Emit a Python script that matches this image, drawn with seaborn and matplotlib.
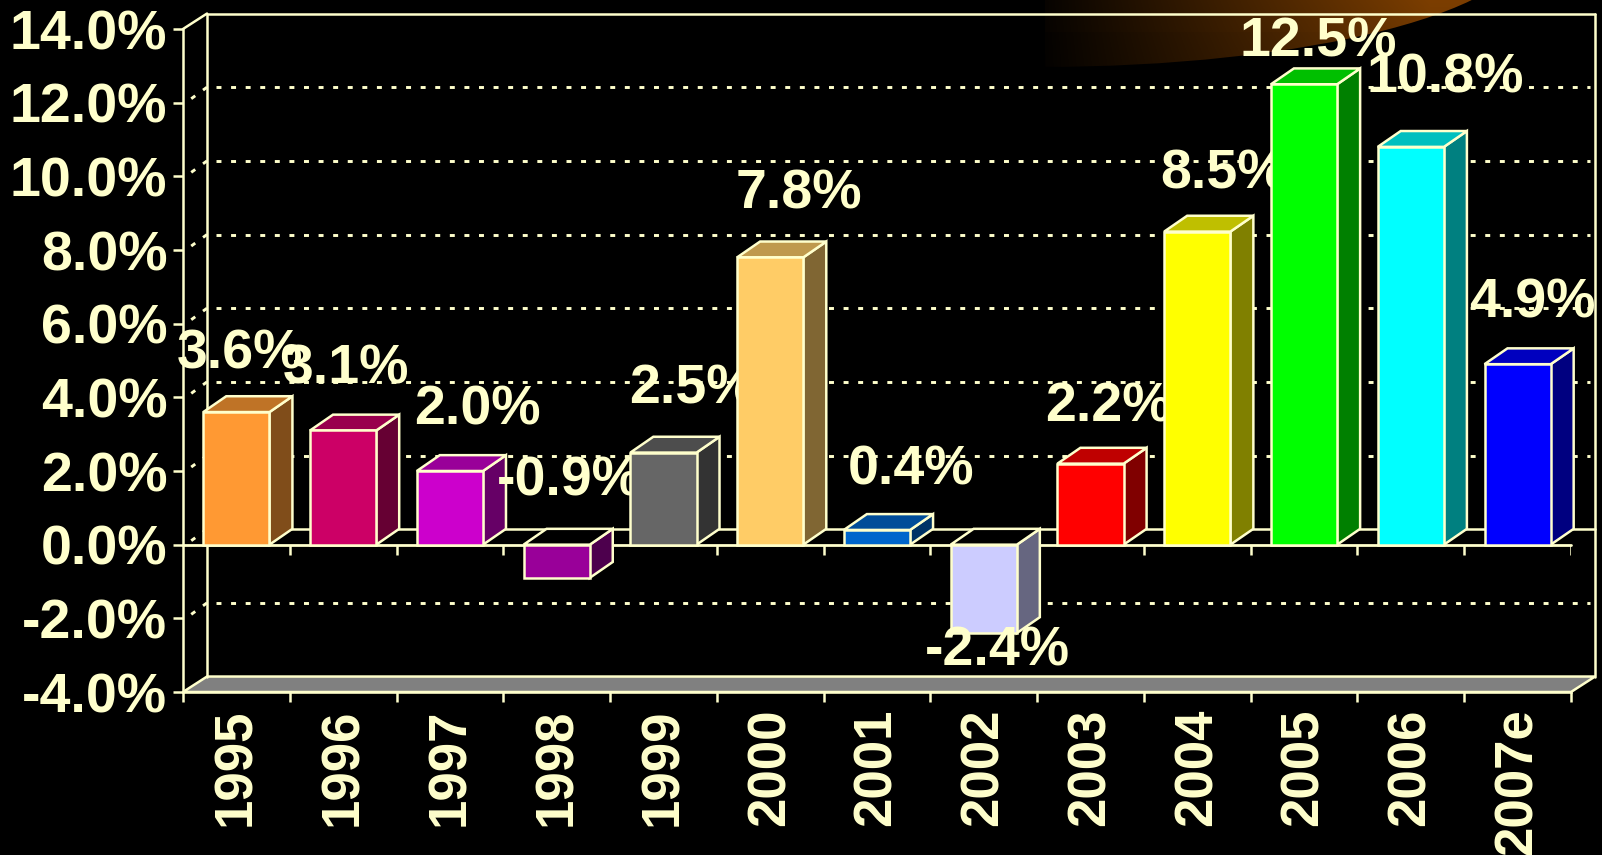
import numpy as np
import pandas as pd
import matplotlib
matplotlib.use("Agg")
import matplotlib.pyplot as plt
from matplotlib.patches import Polygon, Ellipse
from matplotlib.colors import to_rgb
import seaborn as sns

years = ["1995", "1996", "1997", "1998", "1999", "2000", "2001", "2002", "2003", "2004", "2005", "2006", "2007e"]
growth = [3.6, 3.1, 2.0, -0.9, 2.5, 7.8, 0.4, -2.4, 2.2, 8.5, 12.5, 10.8, 4.9]
bar_colors = ["#FF9933", "#CC0066", "#CC00CC", "#990099", "#666666", "#FFCC66", "#0066CC",
              "#CCCCFF", "#FF0000", "#FFFF00", "#00FF00", "#00FFFF", "#0000FF"]
y_ticks = [-4, -2, 0, 2, 4, 6, 8, 10, 12, 14]

# hand placed labels, pixels away from the end of each bar
label_dx = [4, 3, 28, 13, 29, 29, 34, 14, 18, 26, 14, 34, 15]
label_dy = [58, 61, 61, 96, 63, 63, 59, -18, 56, 57, 42, 68, 61]

cream = "#FFFFCC"
bar_depth_x, bar_depth_y = 0.215, 0.43
wall_x, wall_y = 0.225, 0.42
edge_lw = 1.8

sns.set_theme(style="dark", rc={"figure.facecolor": "black", "axes.facecolor": "none"})
plt.rcParams["font.family"] = ["Liberation Sans", "DejaVu Sans"]

fig = plt.figure(figsize=(16.02, 8.55), dpi=100, facecolor="black")

# brown glow behind the top of the chart
bg = fig.add_axes([0, 0, 1, 1], zorder=0)
bg.axis("off")
xx, yy = np.meshgrid(np.arange(1045, 1560), np.arange(0, 90))
f = np.clip((xx - 1030) / 400, 0, 1) * 0.95 * (1 - 0.2 * yy / 90)
f = f + 0.02 * (yy < 32)
glow = np.dstack([f * 0.5, f * 0.25, f * 0.0])
im = bg.imshow(np.clip(glow, 0, 1), extent=[1045, 1560, 90, 0], aspect="auto")
clip = Ellipse((1040, -60), 980, 254, transform=bg.transData, fc="none", ec="none")
bg.add_patch(clip)
bg.set_xlim(0, 1602)
bg.set_ylim(855, 0)
im.set_clip_path(clip)

ax = fig.add_axes([183 / 1602, (855 - 692) / 855, 1388 / 1602, 663 / 855], zorder=1)
ax.patch.set_alpha(0)

df = pd.DataFrame({"year": years, "growth": growth})
sns.barplot(data=df, x="year", y="growth", hue="year", palette=bar_colors, width=0.62,
            dodge=False, legend=False, edgecolor=cream, linewidth=edge_lw, saturation=1, ax=ax)

ax.set_xlim(-0.5, 12.5)
ax.set_ylim(-4, 14)
ax.set_xlabel("")
ax.set_ylabel("")

# 3d faces, built from the bars seaborn drew
for i, cont in enumerate(ax.containers):
    bar = cont[0]
    x0 = bar.get_x()
    x1 = x0 + bar.get_width()
    low = min(bar.get_y(), bar.get_y() + bar.get_height())
    high = max(bar.get_y(), bar.get_y() + bar.get_height())
    rgb = np.array(to_rgb(bar_colors[i]))
    side = Polygon([(x1, low), (x1 + bar_depth_x, low + bar_depth_y), (x1 + bar_depth_x, high + bar_depth_y), (x1, high)],
                   fc=rgb * 0.5, ec=cream, lw=edge_lw, zorder=10 + i, clip_on=False)
    # the top of a bar going down is just the open floor
    top_color = rgb * 0.75 if growth[i] > 0 else "black"
    top = Polygon([(x0, high), (x0 + bar_depth_x, high + bar_depth_y), (x1 + bar_depth_x, high + bar_depth_y), (x1, high)],
                  fc=top_color, ec=cream, lw=edge_lw, zorder=10 + i, clip_on=False)
    ax.add_patch(side)
    ax.add_patch(top)
    bar.set_zorder(10 + i + 0.1)
    bar.set_clip_on(False)
    ax.annotate(f"{growth[i]:.1f}%", (i, growth[i]), xytext=(label_dx[i], label_dy[i]),
                textcoords="offset pixels", ha="center", va="center", color=cream,
                fontsize=40, fontweight="bold", zorder=10 + i + 0.5, annotation_clip=False)

# walls and floor
floor = Polygon([(-0.5, -4), (-0.5 + wall_x, -4 + wall_y), (12.5 + wall_x, -4 + wall_y), (12.5, -4)],
                fc="#808080", ec=cream, lw=edge_lw, zorder=2, clip_on=False)
ax.add_patch(floor)
wall_kw = dict(color=cream, lw=edge_lw, zorder=3, clip_on=False)
ax.plot([-0.5 + wall_x] * 2, [-4 + wall_y, 14 + wall_y], **wall_kw)
ax.plot([12.5 + wall_x] * 2, [-4 + wall_y, 14 + wall_y], **wall_kw)
ax.plot([-0.5 + wall_x, 12.5 + wall_x], [14 + wall_y] * 2, **wall_kw)
ax.plot([-0.5, -0.5 + wall_x], [14, 14 + wall_y], **wall_kw)
ax.plot([-0.5 + wall_x, 12.5 + wall_x], [wall_y, wall_y], **wall_kw)
ax.plot([-0.5, 12.5], [0, 0], color=cream, lw=2, zorder=5, clip_on=False)

# dotted grid on the back wall and its stubs on the side wall
dots = (0, (1.7, 3.3))
for v in y_ticks:
    if v in (-4, 14):
        continue
    if v != 0:
        ax.plot([-0.5 + wall_x + 0.08, 12.5 + wall_x - 0.05], [v + wall_y] * 2, color=cream, lw=2.1,
                ls=dots, dash_capstyle="butt", zorder=1, clip_on=False)
    ax.plot([-0.5 + wall_x, -0.5 + 0.05], [v + wall_y, v + 0.05], color=cream, lw=2.1, ls=dots,
            dash_capstyle="butt", zorder=1, clip_on=False)

# ticks under the zero line
boundaries = np.arange(-0.5, 13.0, 1)
ax.vlines(boundaries[1:], -0.27, 0, color=cream, lw=edge_lw, zorder=4)

ax.set_xticks(range(len(years)))
ax.set_xticklabels(years, rotation=90, va="top", ha="center")
ax.set_xticks(boundaries, minor=True)
ax.tick_params(axis="x", which="major", length=0, pad=12, labelsize=38, labelcolor=cream)
ax.tick_params(axis="x", which="minor", length=7.2, width=edge_lw, color=cream, bottom=True)
ax.set_yticks(y_ticks)
ax.set_yticklabels([f"{v:.1f}%" for v in y_ticks])
ax.tick_params(axis="y", length=7.2, width=edge_lw, color=cream, pad=4, labelsize=40, labelcolor=cream, left=True)
for lab in ax.get_xticklabels() + ax.get_yticklabels():
    lab.set_fontweight("bold")

sns.despine(ax=ax, top=True, right=True)
for s in ["left", "bottom"]:
    ax.spines[s].set_color(cream)
    ax.spines[s].set_linewidth(edge_lw)
    ax.spines[s].set_visible(True)
ax.grid(False)

fig.savefig("out.png", dpi=100, facecolor="black")
